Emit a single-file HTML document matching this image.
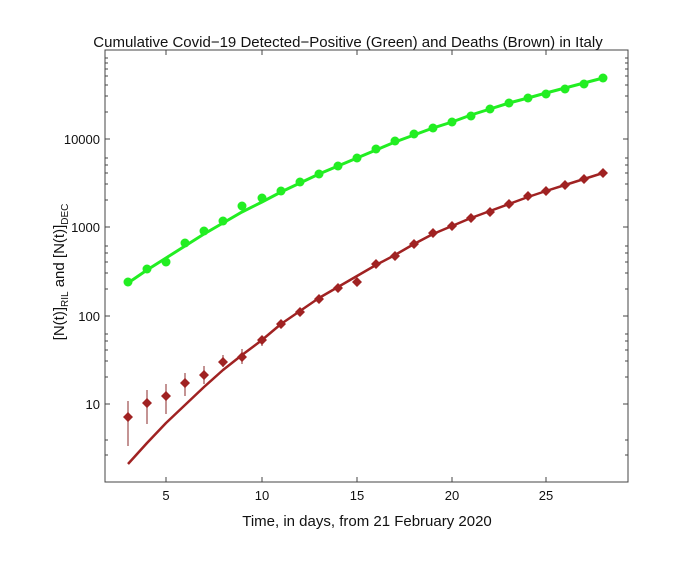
<!DOCTYPE html>
<html><head><meta charset="utf-8"><style>
body{margin:0;background:#fff;}
svg text{font-family:"Liberation Sans",sans-serif;fill:#111;}
</style></head><body>
<svg width="700" height="568" viewBox="0 0 700 568" xmlns="http://www.w3.org/2000/svg">
<text x="348" y="47" font-size="15" text-anchor="middle">Cumulative Covid−19 Detected−Positive (Green) and Deaths (Brown) in Italy</text>
<rect x="105" y="50" width="523" height="432" fill="none" stroke="#444" stroke-width="1"/>
<g stroke="#444" stroke-width="1">
<path d="M166 482v-5M262 482v-5M357 482v-5M452 482v-5M546 482v-5M166 50v5M262 50v5M357 50v5M452 50v5M546 50v5"/>
<path d="M105 139h5M105 227h5M105 316h5M105 404h5M628 139h-5M628 227h-5M628 316h-5M628 404h-5"/>
<path d="M105 455h3M105 440h3M105 377h3M105 361h3M105 350h3M105 341h3M105 334h3M105 289h3M105 273h3M105 262h3M105 253h3M105 246h3M105 200h3M105 184h3M105 173h3M105 165h3M105 158h3M105 112h3M105 96h3M105 85h3M105 76h3M105 69h3M105 63h3M105 58h3"/>
<path d="M628 455h-3M628 440h-3M628 377h-3M628 361h-3M628 350h-3M628 341h-3M628 334h-3M628 289h-3M628 273h-3M628 262h-3M628 253h-3M628 246h-3M628 200h-3M628 184h-3M628 173h-3M628 165h-3M628 158h-3M628 112h-3M628 96h-3M628 85h-3M628 76h-3M628 69h-3M628 63h-3M628 58h-3"/>
</g>
<g font-size="13" text-anchor="middle">
<text x="166" y="500">5</text><text x="262" y="500">10</text><text x="357" y="500">15</text><text x="452" y="500">20</text><text x="546" y="500">25</text>
</g>
<g font-size="13" text-anchor="end">
<text x="100" y="144">10000</text><text x="100" y="232">1000</text><text x="100" y="321">100</text><text x="100" y="409">10</text>
</g>
<text x="367" y="526" font-size="15" text-anchor="middle">Time, in days, from 21 February 2020</text>
<text transform="translate(64,272) rotate(-90)" font-size="15" text-anchor="middle">[N(t)]<tspan font-size="10" dy="4">RIL</tspan><tspan dy="-4"> and [N(t)]</tspan><tspan font-size="10" dy="4">DEC</tspan></text>
<!-- green -->
<polyline fill="none" stroke="#22ee22" stroke-width="3" points="128,283 147,270 166,258 185,246 204,234 223,223 242,212 262,202 281,192 300,183 319,174 338,166 357,158 376,150 395,142 414,135 433,128 452,122 471,115 490,109 509,103 528,98 546,93 565,88 584,83 603,78"/>
<g fill="#22ee22">
<circle cx="128" cy="282" r="4.5"/><circle cx="147" cy="269" r="4.5"/><circle cx="166" cy="262" r="4.5"/><circle cx="185" cy="243" r="4.5"/><circle cx="204" cy="231" r="4.5"/><circle cx="223" cy="221" r="4.5"/><circle cx="242" cy="206" r="4.5"/><circle cx="262" cy="198" r="4.5"/><circle cx="281" cy="191" r="4.5"/><circle cx="300" cy="182" r="4.5"/><circle cx="319" cy="174" r="4.5"/><circle cx="338" cy="166" r="4.5"/><circle cx="357" cy="158" r="4.5"/><circle cx="376" cy="149" r="4.5"/><circle cx="395" cy="141" r="4.5"/><circle cx="414" cy="134" r="4.5"/><circle cx="433" cy="128" r="4.5"/><circle cx="452" cy="122" r="4.5"/><circle cx="471" cy="116" r="4.5"/><circle cx="490" cy="109" r="4.5"/><circle cx="509" cy="103" r="4.5"/><circle cx="528" cy="98" r="4.5"/><circle cx="546" cy="94" r="4.5"/><circle cx="565" cy="89" r="4.5"/><circle cx="584" cy="84" r="4.5"/><circle cx="603" cy="78" r="4.5"/>
</g>
<!-- brown -->
<g stroke="#b07070" stroke-width="1.5">
<path d="M128 401V446M147 390V424M166 384V414M185 373V396M204 366V384M223 355V367M242 349V364M262 336V346"/>
</g>
<polyline fill="none" stroke="#a02222" stroke-width="2.5" stroke-linejoin="round" points="128,464 147,443 166,423 185,405 204,387 223,370 242,355 262,340 281,324 300,311 319,298 338,287 357,276 376,265 395,255 414,244 433,234 452,226 471,218 490,211 509,204 528,197 546,191 565,185 584,179 603,173"/>
<g fill="#a02222">
<path d="M128 412l5 5-5 5-5-5z M147 398l5 5-5 5-5-5z M166 391l5 5-5 5-5-5z M185 378l5 5-5 5-5-5z M204 370l5 5-5 5-5-5z M223 357l5 5-5 5-5-5z M242 352l5 5-5 5-5-5z M262 335l5 5-5 5-5-5z M281 319l5 5-5 5-5-5z M300 307l5 5-5 5-5-5z M319 294l5 5-5 5-5-5z M338 283l5 5-5 5-5-5z M357 277l5 5-5 5-5-5z M376 259l5 5-5 5-5-5z M395 251l5 5-5 5-5-5z M414 239l5 5-5 5-5-5z M433 228l5 5-5 5-5-5z M452 221l5 5-5 5-5-5z M471 213l5 5-5 5-5-5z M490 207l5 5-5 5-5-5z M509 199l5 5-5 5-5-5z M528 191l5 5-5 5-5-5z M546 186l5 5-5 5-5-5z M565 180l5 5-5 5-5-5z M584 174l5 5-5 5-5-5z M603 168l5 5-5 5-5-5z"/>
</g>
</svg>
</body></html>
